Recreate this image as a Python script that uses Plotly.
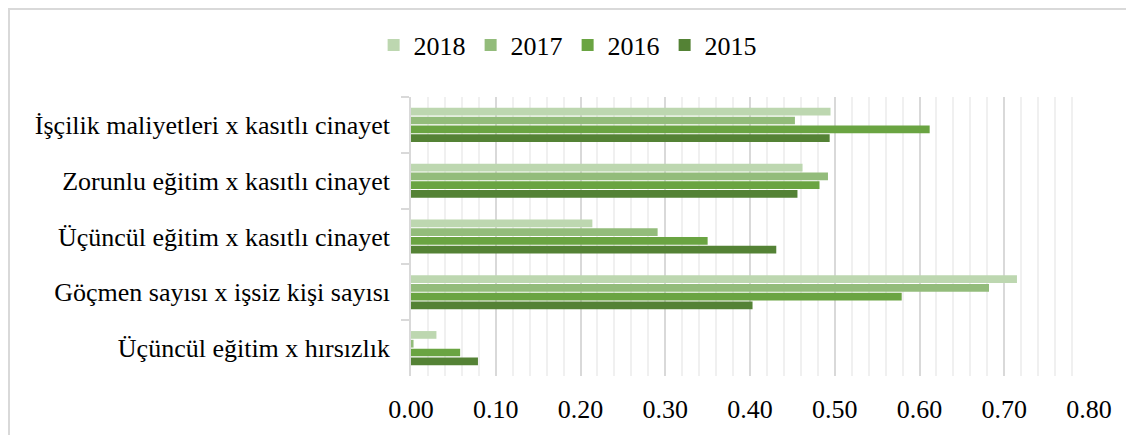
import plotly.graph_objects as go

# categories top to bottom
categories = [
    "İşçilik maliyetleri x kasıtlı cinayet",
    "Zorunlu eğitim x kasıtlı cinayet",
    "Üçüncül eğitim x kasıtlı cinayet",
    "Göçmen sayısı x işsiz kişi sayısı",
    "Üçüncül eğitim x hırsızlık",
]
years = ["2018", "2017", "2016", "2015"]
v2018 = [0.495, 0.462, 0.214, 0.715, 0.030]
v2017 = [0.453, 0.492, 0.291, 0.682, 0.003]
v2016 = [0.612, 0.482, 0.350, 0.579, 0.058]
v2015 = [0.494, 0.456, 0.431, 0.403, 0.079]
series = [v2018, v2017, v2016, v2015]
colors = ["#BDD7B0", "#93BC7B", "#6AA442", "#548235"]

x_ticks = [0.0, 0.1, 0.2, 0.3, 0.4, 0.5, 0.6, 0.7, 0.8]

fig = go.Figure()
for name, vals, col in zip(years, series, colors):
    fig.add_trace(go.Bar(
        y=categories, x=vals, name=name, orientation="h",
        marker=dict(color=col, line=dict(width=0)),
    ))

serif = "'Times New Roman', 'Liberation Serif', serif"
fig.update_layout(
    width=1126, height=427,
    margin=dict(l=403, r=45, t=89, b=59),
    paper_bgcolor="white", plot_bgcolor="white",
    barmode="group", bargap=0.37, bargroupgap=0.12,
    font=dict(family=serif, size=26, color="black"),
    legend=dict(
        orientation="h", xref="container", x=0.497, xanchor="center",
        yref="container", y=0.913, yanchor="middle",
        font=dict(family=serif, size=26, color="black"),
        itemwidth=30, tracegroupgap=0,
    ),
    xaxis=dict(
        range=[0, 0.8], tickvals=x_ticks, tickformat=".2f",
        tickfont=dict(family=serif, size=26, color="black"),
        showgrid=True, gridcolor="#D9D9D9", gridwidth=1.5,
        minor=dict(dtick=0.02, showgrid=True, gridcolor="#F0F0F0", gridwidth=1.5),
        zeroline=False, showline=False, ticks="",
        ticklabelstandoff=15,
    ),
    yaxis=dict(
        categoryorder="array", categoryarray=categories, autorange="reversed",
        tickfont=dict(family=serif, size=26, color="black"),
        showgrid=False, zeroline=False,
        showline=True, linecolor="#D9D9D9", linewidth=1.5,
        ticks="outside", tickson="boundaries", ticklen=8, tickcolor="#D9D9D9",
        tickwidth=1.5, ticklabelstandoff=14,
    ),
    shapes=[dict(
        type="rect", xref="paper", yref="paper",
        x0=-0.5929, x1=1.2, y0=-0.4, y1=1.3154,
        line=dict(color="#D9D9D9", width=2),
    )],
)

fig.write_html("out.html")
